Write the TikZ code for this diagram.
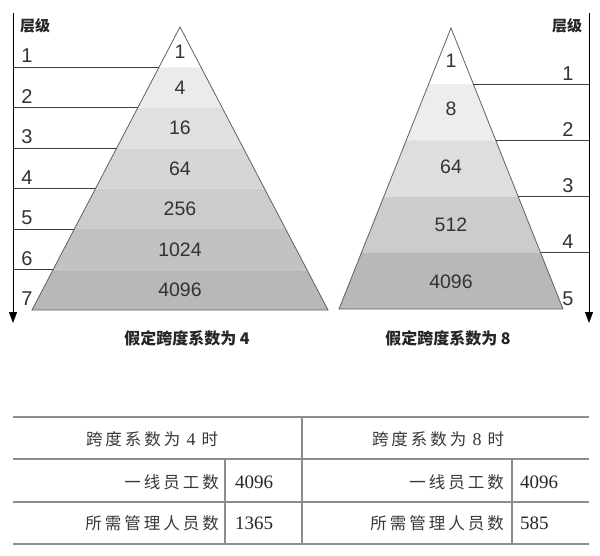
\documentclass[tikz,border=0pt]{standalone}
\usepackage{fontspec}
\setmainfont{Liberation Sans}
\newfontfamily\cjk{Noto Sans CJK SC}
\newfontfamily\sernum{Liberation Serif}
\usetikzlibrary{calc,arrows.meta}
\newcommand\gapx{\hspace{3pt}}
\begin{document}
\begin{tikzpicture}[x=1pt,y=-1pt,
  outl/.style={draw=black!62,line width=0.8pt,line join=miter},
  hline/.style={draw=black!75,line width=0.9pt},
  axis/.style={draw=black,line width=1pt,-{Triangle[length=11pt,width=8pt]}},
  pnum/.style={inner sep=0pt,text=black!80,font=\fontsize{19.5}{21}\selectfont},
  lvl/.style={inner sep=0pt,anchor=base,text=black!80,font=\fontsize{20}{22}\selectfont},
  lvlhead/.style={inner sep=0pt,text=black!85,font=\cjk\bfseries\fontsize{15}{17}\selectfont},
  capt/.style={inner sep=0pt,text=black!85,font=\cjk\bfseries\fontsize{16}{18}\selectfont},
  tline/.style={draw=black!45,line width=1.3pt},
  tcjk/.style={inner sep=0pt,text=black!78,font=\cjk\fontsize{16.5}{18}\selectfont},
  tnum/.style={inner sep=0pt,text=black!85,font=\sernum\fontsize{19}{21}\selectfont},
]
\useasboundingbox (0,0) rectangle (600,555);
\fill[white] (0,0) rectangle (600,555);

% ---------- left pyramid ----------
\coordinate (apexL) at (180,27);
\coordinate (blL) at (32,310);
\coordinate (brL) at (328,310);
\foreach \k/\c in {1/0,2/8,3/12,4/16,5/20,6/24,7/28}{
  \fill[black!\c] ($(apexL)!{(\k-1)/7}!(blL)$) -- ($(apexL)!{\k/7}!(blL)$)
     -- ($(apexL)!{\k/7}!(brL)$) -- ($(apexL)!{(\k-1)/7}!(brL)$) -- cycle;
}
\draw[outl] (apexL) -- (blL) -- (brL) -- cycle;

\coordinate (axLtop) at (13,13);
\coordinate (axLend) at (13,323);
\draw[axis] (axLtop) -- (axLend);
\foreach \k in {1,...,6}{
  \coordinate (eL\k) at ($(apexL)!{\k/7}!(blL)$);
  \draw[hline] (axLtop |- eL\k) -- (eL\k);
}
\coordinate (eL7) at (blL);
\foreach \k in {1,...,7}{
  \node[lvl] (lL\k) at ($(27,0 |- eL\k)+(0,-4.5)$) {\k};
}
\node[lvlhead] (hL) at (35,26) {层级};

\node[pnum] (nL1) at (180,52) {1};
\node[pnum] (nL2) at (180,87.6) {4};
\node[pnum] (nL3) at (180,128) {16};
\node[pnum] (nL4) at (180,168.5) {64};
\node[pnum] (nL5) at (180,209) {256};
\node[pnum] (nL6) at (180,249.4) {1024};
\node[pnum] (nL7) at (180,289.5) {4096};

\node[capt] (cL) at (187,338) {假定跨度系数为 4};

% ---------- right pyramid ----------
\coordinate (apexR) at (451,28);
\coordinate (blR) at (339,309);
\coordinate (brR) at (563,309);
\foreach \k/\c in {1/0,2/7,3/13,4/20,5/28}{
  \fill[black!\c] ($(apexR)!{(\k-1)/5}!(blR)$) -- ($(apexR)!{\k/5}!(blR)$)
     -- ($(apexR)!{\k/5}!(brR)$) -- ($(apexR)!{(\k-1)/5}!(brR)$) -- cycle;
}
\draw[outl] (apexR) -- (blR) -- (brR) -- cycle;

\coordinate (axRtop) at (589,13);
\coordinate (axRend) at (589,323);
\draw[axis] (axRtop) -- (axRend);
\foreach \k in {1,...,4}{
  \coordinate (eR\k) at ($(apexR)!{\k/5}!(brR)$);
  \draw[hline] (eR\k) -- (axRtop |- eR\k);
}
\coordinate (eR5) at (brR);
\foreach \k in {1,...,5}{
  \node[lvl] (lR\k) at ($(568,0 |- eR\k)+(0,-4)$) {\k};
}
\node[lvlhead] (hR) at (567,26) {层级};

\node[pnum] (nR1) at (451,61) {1};
\node[pnum] (nR2) at (451,109) {8};
\node[pnum] (nR3) at (451,167) {64};
\node[pnum] (nR4) at (451,224.5) {512};
\node[pnum] (nR5) at (451,281.5) {4096};

\node[capt] (cR) at (448,338) {假定跨度系数为 8};

% ---------- table ----------
\draw[tline] (13,417) -- (589,417);
\draw[tline] (13,459) -- (589,459);
\draw[tline] (13,502) -- (589,502);
\draw[tline] (13,544) -- (589,544);
\draw[tline] (302,417) -- (302,544);
\draw[tline] (225,459) -- (225,544);
\draw[tline] (512,459) -- (512,544);

\node[tcjk] (th1) at (152,439) {跨\gapx 度\gapx 系\gapx 数\gapx 为\hspace{6pt}{\sernum\fontsize{18}{20}\selectfont 4}\hspace{6pt}时};
\node[tcjk] (th2) at (438,439) {跨\gapx 度\gapx 系\gapx 数\gapx 为\hspace{6pt}{\sernum\fontsize{18}{20}\selectfont 8}\hspace{6pt}时};

\node[tcjk,anchor=east] (ta1) at (219,482) {一\gapx 线\gapx 员\gapx 工\gapx 数};
\node[tcjk,anchor=east] (tb1) at (219,523) {所\gapx 需\gapx 管\gapx 理\gapx 人\gapx 员\gapx 数};
\node[tnum,anchor=west] (va1) at (235,482) {4096};
\node[tnum,anchor=west] (vb1) at (235,523) {1365};

\node[tcjk,anchor=east] (ta2) at (504,482) {一\gapx 线\gapx 员\gapx 工\gapx 数};
\node[tcjk,anchor=east] (tb2) at (504,523) {所\gapx 需\gapx 管\gapx 理\gapx 人\gapx 员\gapx 数};
\node[tnum,anchor=west] (va2) at (520,482) {4096};
\node[tnum,anchor=west] (vb2) at (520,523) {585};
\end{tikzpicture}
\end{document}
